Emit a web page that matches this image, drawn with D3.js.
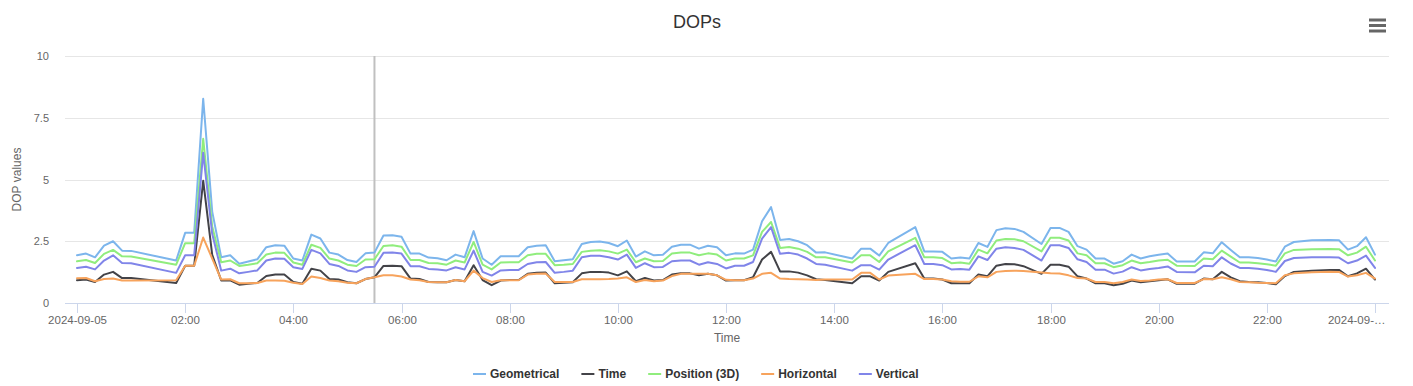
<!DOCTYPE html>
<html>
<head>
<meta charset="utf-8">
<script src="https://cdn.jsdelivr.net/npm/d3@7"></script>
<style>
  body { margin: 0; background: #fff; }
  svg { display: block; font-family: "Lucida Grande", "Lucida Sans Unicode", Arial, Helvetica, sans-serif; }
</style>
</head>
<body>
<svg id="chart" width="1413" height="386"></svg>
<script>
// minutes after 2024-09-05 00:00
const minutes = [0, 10, 20, 30, 40, 50, 60, 110, 120, 130, 140, 150, 160, 170, 180, 190, 200, 210, 220, 230,
  240, 250, 260, 270, 280, 290, 300, 310, 320, 330, 340, 350, 360, 370, 380, 390, 400, 410, 420, 430,
  440, 450, 460, 470, 480, 490, 500, 510, 520, 530, 540, 550, 560, 570, 580, 590, 600, 610, 620, 630,
  640, 650, 660, 670, 680, 690, 700, 710, 720, 730, 740, 750, 760, 770, 780, 790, 800, 810, 820, 830,
  860, 870, 880, 890, 900, 930, 940, 950, 960, 970, 980, 990, 1000, 1010, 1020, 1030, 1040, 1050, 1070, 1080,
  1090, 1100, 1110, 1120, 1130, 1140, 1150, 1160, 1170, 1180, 1190, 1200, 1210, 1220, 1240, 1250, 1260, 1270, 1280, 1290,
  1300, 1310, 1320, 1330, 1340, 1350, 1370, 1390, 1400, 1410, 1420, 1430, 1440];

const geometrical = [1.93, 2.0, 1.85, 2.32, 2.5, 2.12, 2.11, 1.72, 2.84, 2.84, 8.27, 3.7, 1.85, 1.93, 1.59, 1.68, 1.77, 2.26, 2.34, 2.32,
  1.8, 1.72, 2.77, 2.61, 2.04, 1.96, 1.74, 1.66, 2.01, 2.04, 2.73, 2.74, 2.68, 2.0, 2.0, 1.84, 1.81, 1.73, 1.96, 1.85,
  2.91, 1.8, 1.55, 1.89, 1.89, 1.89, 2.26, 2.32, 2.34, 1.69, 1.73, 1.77, 2.39, 2.47, 2.49, 2.43, 2.3, 2.53, 1.88, 2.09,
  1.93, 1.95, 2.28, 2.36, 2.36, 2.2, 2.32, 2.26, 1.93, 2.01, 2.0, 2.16, 3.31, 3.88, 2.55, 2.59, 2.5, 2.34, 2.04, 2.05,
  1.8, 2.2, 2.2, 1.92, 2.43, 3.07, 2.09, 2.09, 2.07, 1.8, 1.84, 1.8, 2.43, 2.27, 2.95, 3.03, 3.0, 2.88, 2.39, 3.04,
  3.04, 2.88, 2.3, 2.16, 1.8, 1.8, 1.59, 1.69, 1.96, 1.8, 1.89, 1.95, 2.0, 1.68, 1.68, 2.05, 2.01, 2.46, 2.15, 1.85,
  1.85, 1.82, 1.76, 1.68, 2.28, 2.47, 2.54, 2.55, 2.54, 2.16, 2.3, 2.66, 1.96];

const timeDop = [0.92, 0.95, 0.85, 1.15, 1.26, 1.01, 1.01, 0.81, 1.51, 1.51, 4.95, 1.95, 0.91, 0.92, 0.74, 0.78, 0.81, 1.09, 1.15, 1.15,
  0.85, 0.78, 1.39, 1.31, 0.97, 0.95, 0.84, 0.8, 0.97, 1.04, 1.5, 1.51, 1.49, 0.99, 0.97, 0.85, 0.84, 0.84, 0.93, 0.88,
  1.53, 0.93, 0.72, 0.91, 0.93, 0.93, 1.18, 1.22, 1.23, 0.8, 0.82, 0.84, 1.2, 1.26, 1.26, 1.23, 1.12, 1.28, 0.88, 1.01,
  0.91, 0.93, 1.15, 1.2, 1.2, 1.12, 1.18, 1.12, 0.91, 0.92, 0.92, 1.04, 1.76, 2.07, 1.28, 1.28, 1.23, 1.12, 0.96, 0.93,
  0.8, 1.08, 1.08, 0.91, 1.26, 1.61, 0.99, 0.99, 0.95, 0.8, 0.8, 0.8, 1.15, 1.08, 1.51, 1.58, 1.57, 1.49, 1.18, 1.55,
  1.55, 1.47, 1.08, 0.99, 0.8, 0.8, 0.72, 0.78, 0.91, 0.84, 0.88, 0.92, 0.96, 0.78, 0.78, 0.99, 0.96, 1.26, 1.04, 0.88,
  0.85, 0.84, 0.81, 0.76, 1.09, 1.26, 1.31, 1.34, 1.34, 1.08, 1.2, 1.39, 0.95];

const position3d = [1.69, 1.74, 1.62, 1.99, 2.15, 1.89, 1.88, 1.55, 2.42, 2.42, 6.65, 3.1, 1.65, 1.72, 1.5, 1.55, 1.61, 1.96, 2.04, 2.03,
  1.64, 1.55, 2.36, 2.23, 1.8, 1.72, 1.55, 1.5, 1.76, 1.77, 2.31, 2.34, 2.28, 1.74, 1.74, 1.62, 1.61, 1.55, 1.72, 1.64,
  2.47, 1.55, 1.36, 1.64, 1.65, 1.65, 1.93, 1.99, 1.99, 1.53, 1.55, 1.58, 2.07, 2.12, 2.14, 2.09, 2.0, 2.16, 1.65, 1.8,
  1.69, 1.7, 2.0, 2.04, 2.04, 1.93, 2.01, 1.96, 1.72, 1.8, 1.8, 1.93, 2.88, 3.28, 2.23, 2.27, 2.2, 2.07, 1.85, 1.85,
  1.64, 1.93, 1.93, 1.66, 2.09, 2.64, 1.85, 1.85, 1.82, 1.61, 1.64, 1.59, 2.16, 2.01, 2.53, 2.59, 2.58, 2.5, 2.09, 2.64,
  2.64, 2.53, 2.01, 1.93, 1.61, 1.61, 1.45, 1.53, 1.72, 1.61, 1.66, 1.72, 1.75, 1.51, 1.5, 1.8, 1.77, 2.12, 1.88, 1.64,
  1.64, 1.61, 1.57, 1.51, 2.01, 2.15, 2.18, 2.19, 2.18, 1.93, 2.04, 2.28, 1.72];

const horizontal = [1.0, 1.01, 0.88, 0.97, 0.99, 0.91, 0.91, 0.92, 1.51, 1.51, 2.65, 1.8, 0.95, 0.96, 0.8, 0.8, 0.81, 0.91, 0.91, 0.9,
  0.82, 0.77, 1.07, 1.01, 0.91, 0.88, 0.82, 0.8, 0.97, 1.04, 1.12, 1.12, 1.07, 0.95, 0.92, 0.85, 0.84, 0.84, 0.93, 0.88,
  1.31, 1.01, 0.85, 0.92, 0.92, 0.92, 1.15, 1.18, 1.19, 0.85, 0.85, 0.85, 0.96, 0.96, 0.96, 0.97, 0.99, 1.04, 0.85, 0.93,
  0.88, 0.91, 1.09, 1.18, 1.18, 1.18, 1.18, 1.12, 0.94, 0.92, 0.92, 0.99, 1.18, 1.22, 0.99, 0.97, 0.96, 0.95, 0.93, 0.95,
  0.95, 1.22, 1.22, 0.95, 1.11, 1.18, 0.97, 0.97, 0.95, 0.88, 0.86, 0.86, 1.08, 1.04, 1.26, 1.3, 1.31, 1.3, 1.23, 1.2,
  1.19, 1.12, 1.01, 0.99, 0.85, 0.85, 0.8, 0.85, 0.95, 0.89, 0.91, 0.95, 0.96, 0.81, 0.81, 0.97, 0.96, 1.04, 0.96, 0.85,
  0.84, 0.82, 0.81, 0.8, 1.12, 1.2, 1.24, 1.27, 1.26, 1.07, 1.12, 1.22, 0.99];

const vertical = [1.42, 1.47, 1.36, 1.72, 1.93, 1.62, 1.61, 1.22, 1.93, 1.93, 6.08, 2.8, 1.31, 1.39, 1.2, 1.26, 1.32, 1.72, 1.8, 1.79,
  1.45, 1.38, 2.15, 2.01, 1.58, 1.5, 1.32, 1.26, 1.45, 1.47, 2.03, 2.04, 2.0, 1.49, 1.49, 1.38, 1.36, 1.32, 1.45, 1.36,
  2.12, 1.26, 1.11, 1.32, 1.34, 1.34, 1.58, 1.65, 1.66, 1.22, 1.26, 1.31, 1.85, 1.91, 1.91, 1.85, 1.76, 1.96, 1.42, 1.61,
  1.45, 1.46, 1.69, 1.72, 1.72, 1.55, 1.65, 1.58, 1.4, 1.51, 1.51, 1.66, 2.61, 3.07, 1.99, 2.03, 1.96, 1.8, 1.58, 1.55,
  1.31, 1.53, 1.53, 1.35, 1.76, 2.34, 1.58, 1.58, 1.53, 1.36, 1.38, 1.35, 1.89, 1.74, 2.2, 2.26, 2.23, 2.15, 1.72, 2.34,
  2.34, 2.23, 1.77, 1.66, 1.35, 1.35, 1.19, 1.27, 1.45, 1.32, 1.38, 1.42, 1.48, 1.26, 1.24, 1.51, 1.49, 1.85, 1.6, 1.42,
  1.42, 1.39, 1.34, 1.26, 1.7, 1.82, 1.85, 1.85, 1.84, 1.61, 1.72, 1.92, 1.42];

const seriesNames = ['Geometrical', 'Time', 'Position (3D)', 'Horizontal', 'Vertical'];
const seriesColors = ['#7cb5ec', '#434348', '#90ed7d', '#f7a35c', '#8085e9'];
const seriesValues = [geometrical, timeDop, position3d, horizontal, vertical];

const yTicks = [0, 2.5, 5, 7.5, 10];
const xTickHours = [0, 2, 4, 6, 8, 10, 12, 14, 16, 18, 20, 22, 24];
const xTickLabels = ['2024-09-05', '02:00', '04:00', '06:00', '08:00', '10:00', '12:00',
  '14:00', '16:00', '18:00', '20:00', '22:00', '2024-09-\u2026'];
const crosshairMinute = 330;

const startDate = new Date(2024, 8, 5, 0, 0);
const toDate = m => new Date(startDate.getTime() + m * 60000);

const centerX = 697;
const plot = { left: 65, right: 1389, top: 56, bottom: 303 };
const pad = { left: 12, right: 14 };

const svg = d3.select('#chart');

const xScale = d3.scaleTime()
  .domain([toDate(0), toDate(1440)])
  .range([plot.left + pad.left, plot.right - pad.right]);
const yScale = d3.scaleLinear()
  .domain([0, 10])
  .range([plot.bottom, plot.top]);

// title
svg.append('text')
  .attr('x', centerX)
  .attr('y', 28)
  .attr('text-anchor', 'middle')
  .style('font-size', '18px')
  .style('fill', '#333333')
  .text('DOPs');

// context menu icon
svg.append('g')
  .selectAll('line')
  .data([20, 25.5, 31])
  .join('line')
  .attr('x1', 1369).attr('x2', 1386)
  .attr('y1', d => d).attr('y2', d => d)
  .attr('stroke', '#666666')
  .attr('stroke-width', 3);

// grid
svg.append('g')
  .selectAll('line')
  .data(yTicks)
  .join('line')
  .attr('x1', plot.left).attr('x2', plot.right)
  .attr('y1', d => Math.round(yScale(d)) + 0.5)
  .attr('y2', d => Math.round(yScale(d)) + 0.5)
  .attr('stroke', '#e6e6e6');

// y labels
svg.append('g')
  .selectAll('text')
  .data(yTicks)
  .join('text')
  .attr('x', 49)
  .attr('y', d => yScale(d) + 4)
  .attr('text-anchor', 'end')
  .style('font-size', '11px')
  .style('fill', '#666666')
  .text(d => d);

svg.append('text')
  .attr('transform', `translate(21,${(plot.top + plot.bottom) / 2}) rotate(-90)`)
  .attr('text-anchor', 'middle')
  .style('font-size', '12px')
  .style('fill', '#666666')
  .text('DOP values');

// x axis
svg.append('line')
  .attr('x1', plot.left).attr('x2', plot.right)
  .attr('y1', plot.bottom + 0.5).attr('y2', plot.bottom + 0.5)
  .attr('stroke', '#ccd6eb');

const xTicks = svg.append('g')
  .selectAll('g')
  .data(xTickHours)
  .join('g')
  .attr('transform', d => `translate(${Math.round(xScale(toDate(d * 60))) + 0.5},0)`);

xTicks.append('line')
  .attr('y1', plot.bottom)
  .attr('y2', plot.bottom + 10)
  .attr('stroke', '#ccd6eb');

xTicks.append('text')
  .attr('y', plot.bottom + 21)
  .attr('text-anchor', (d, i) => i === xTickHours.length - 1 ? 'end' : 'middle')
  .attr('x', (d, i) => i === xTickHours.length - 1 ? 10 : 0)
  .style('font-size', '11.5px')
  .style('fill', '#666666')
  .text((d, i) => xTickLabels[i]);

svg.append('text')
  .attr('x', (plot.left + plot.right) / 2)
  .attr('y', 342)
  .attr('text-anchor', 'middle')
  .style('font-size', '12px')
  .style('fill', '#666666')
  .text('Time');

// crosshair
svg.append('line')
  .attr('x1', xScale(toDate(crosshairMinute)))
  .attr('x2', xScale(toDate(crosshairMinute)))
  .attr('y1', plot.top)
  .attr('y2', plot.bottom)
  .attr('stroke', '#c0c0c0')
  .attr('stroke-width', 2);

// series
const line = d3.line()
  .x((d, i) => xScale(toDate(minutes[i])))
  .y(d => yScale(d));

svg.append('g')
  .selectAll('path')
  .data(seriesValues)
  .join('path')
  .attr('d', d => line(d))
  .attr('fill', 'none')
  .attr('stroke', (d, i) => seriesColors[i])
  .attr('stroke-width', 2)
  .attr('stroke-linejoin', 'round')
  .attr('stroke-linecap', 'round');

// legend
const legend = svg.append('g');
let cursor = 0;
seriesNames.forEach((name, i) => {
  const item = legend.append('g').attr('transform', `translate(${cursor},0)`);
  item.append('line')
    .attr('x1', 0).attr('x2', 13)
    .attr('y1', 0).attr('y2', 0)
    .attr('stroke', seriesColors[i])
    .attr('stroke-width', 2);
  const label = item.append('text')
    .attr('x', 17)
    .attr('y', 4)
    .style('font-size', '12px')
    .style('font-weight', 'bold')
    .style('fill', '#333333')
    .text(name);
  cursor += 17 + label.node().getComputedTextLength() + 22;
});
const legendWidth = cursor - 22;
legend.attr('transform', `translate(${Math.round(695.5 - legendWidth / 2)},374)`);
</script>
</body>
</html>
